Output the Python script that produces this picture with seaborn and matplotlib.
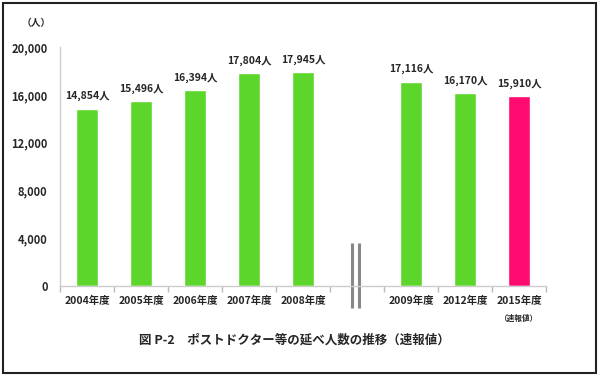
import numpy as np
import pandas as pd
import seaborn as sns
import matplotlib.pyplot as plt
from matplotlib.patches import Rectangle

# ---- データ ----
years = ['2004年度', '2005年度', '2006年度', '2007年度', '2008年度', '',
         '2009年度', '2012年度', '2015年度']
counts = [14854, 15496, 16394, 17804, 17945, np.nan, 17116, 16170, 15910]
bar_colors = ['#5CD62A'] * 8 + ['#FF0A6E']
yticks = [0, 4000, 8000, 12000, 16000, 20000]
caption = '図 P-2　ポストドクター等の延べ人数の推移（速報値）'

sns.set_theme(style='white')
plt.rcParams['font.family'] = ['Noto Sans CJK JP', 'DejaVu Sans']

slots = [f's{i}' for i in range(len(years))]
df = pd.DataFrame({'slot': slots, 'count': counts})
palette = dict(zip(slots, bar_colors))

fig = plt.figure(figsize=(6.0, 3.77), dpi=100)
ax = fig.add_axes([0.1, 0.241, 0.81, 0.634])

sns.barplot(data=df, x='slot', y='count', hue='slot', palette=palette,
            width=0.39, saturation=1, legend=False, ax=ax)

ax.set_xlim(-0.5, len(years) - 0.5)
ax.set_ylim(0, 20000)
ax.set_yticks(yticks)
ax.set_yticklabels([f'{v:,}' for v in yticks], fontsize=8, fontweight='bold')
ax.tick_params(axis='y', length=3, color='#bbbbbb', pad=6)

# x軸: ラベルは中央、目盛り線は区切り位置
ax.set_xticks(range(len(years)))
ax.set_xticklabels(years, fontsize=7.5, fontweight='bold')
ax.set_xticks(np.arange(-0.5, len(years)), minor=True)
ax.tick_params(axis='x', which='major', length=0, pad=7)
ax.tick_params(axis='x', which='minor', length=4, color='#bbbbbb', bottom=True)
ax.text(8, -2350, '（速報値）', ha='center', va='top', fontsize=5.5, fontweight='bold')

ax.set_xlabel('')
ax.set_ylabel('')
for side in ['top', 'right']:
    ax.spines[side].set_visible(False)
for side in ['left', 'bottom']:
    ax.spines[side].set_color('#cccccc')
    ax.spines[side].set_linewidth(1)

# 値ラベル
for i, v in enumerate(counts):
    if np.isnan(v):
        continue
    ax.text(i, v + 600, f'{int(v):,}人', ha='center', va='bottom',
            fontsize=7.5, fontweight='bold')

# 省略記号（二重線）
for xo in [4.90, 5.03]:
    ax.plot([xo, xo], [-1850, 3600], color='#888888', lw=2.2,
            solid_capstyle='butt', clip_on=False)

fig.text(0.06, 0.94, '（人）', ha='center', va='center', fontsize=7, fontweight='bold')
fig.text(0.49, 0.098, caption, ha='center', va='center', fontsize=9, fontweight='bold')

fig.patches.append(Rectangle((0.005, 0.01), 0.988, 0.982, transform=fig.transFigure,
                             fill=False, edgecolor='#222222', linewidth=1.5))

fig.savefig('out.png', dpi=100)
